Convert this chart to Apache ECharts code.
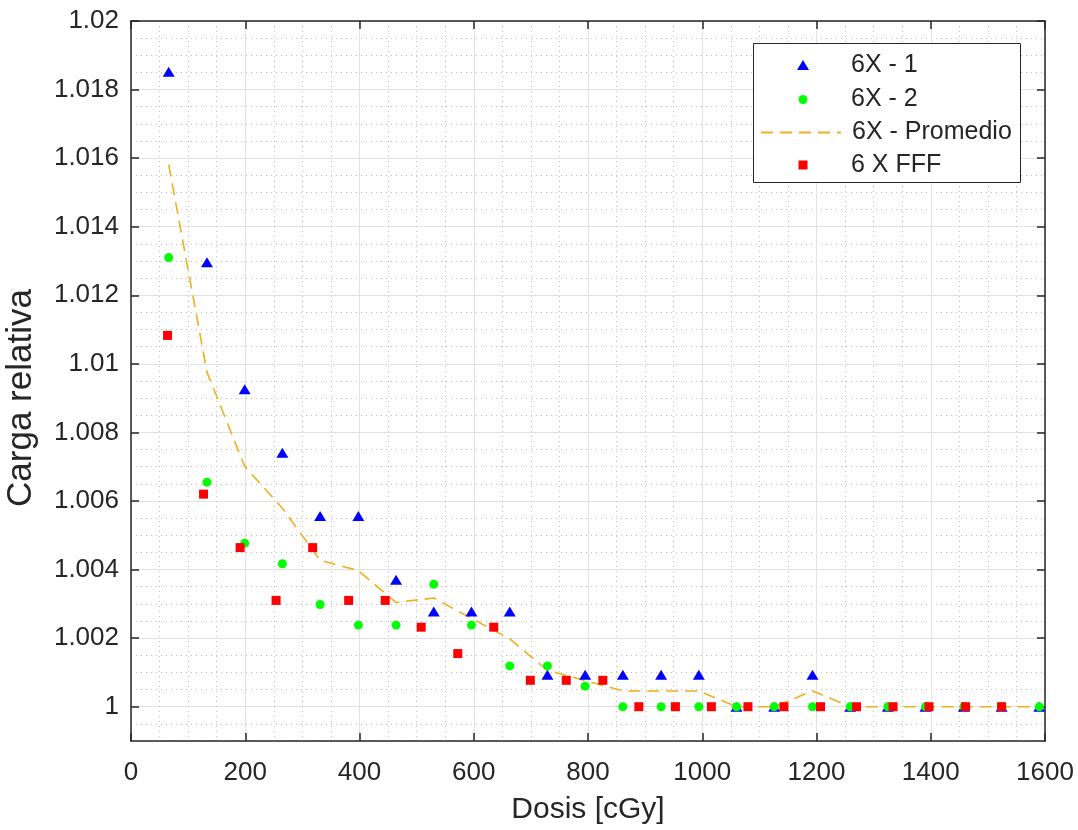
<!DOCTYPE html>
<html>
<head>
<meta charset="utf-8">
<script src="https://cdn.jsdelivr.net/npm/echarts@6/dist/echarts.min.js"></script>
<style>html,body{margin:0;padding:0;background:#fff}#c{width:1078px;height:830px}</style>
</head>
<body>
<div id="c"></div>
<script>
// Dose values (cGy)
const dose6X  = [66, 133, 199, 265, 331, 398, 464, 530, 596, 663, 729, 795, 861, 928, 994, 1060, 1126, 1193, 1259, 1325, 1391, 1458, 1524, 1590];
const doseFFF = [64, 127, 191, 254, 318, 381, 445, 508, 572, 635, 699, 762, 826, 889, 953, 1016, 1080, 1143, 1207, 1270, 1334, 1397, 1461, 1524];
// Relative charge
const carga6X1 = [1.01852, 1.01296, 1.00926, 1.00741, 1.00556, 1.00556, 1.00370, 1.00278, 1.00278, 1.00278, 1.00093, 1.00093, 1.00093, 1.00093, 1.00093, 1.0, 1.0, 1.00093, 1.0, 1.0, 1.0, 1.0, 1.0, 1.0];
const carga6X2 = [1.01310, 1.00655, 1.00477, 1.00417, 1.00298, 1.00238, 1.00238, 1.00357, 1.00238, 1.00119, 1.00119, 1.00060, 1.0, 1.0, 1.0, 1.0, 1.0, 1.0, 1.0, 1.0, 1.0, 1.0, 1.0, 1.0];
const carga6XProm = [1.01581, 1.00976, 1.00701, 1.00579, 1.00427, 1.00397, 1.00304, 1.00317, 1.00258, 1.00198, 1.00106, 1.00076, 1.00046, 1.00046, 1.00046, 1.0, 1.0, 1.00046, 1.0, 1.0, 1.0, 1.0, 1.0, 1.0];
const cargaFFF = [1.01083, 1.00620, 1.00464, 1.00310, 1.00464, 1.00310, 1.00310, 1.00232, 1.00155, 1.00232, 1.00077, 1.00077, 1.00077, 1.0, 1.0, 1.0, 1.0, 1.0, 1.0, 1.0, 1.0, 1.0, 1.0, 1.0];
// Axis ticks
const yTicks = [1.000, 1.002, 1.004, 1.006, 1.008, 1.010, 1.012, 1.014, 1.016, 1.018, 1.020];
const seriesNames = ['6X - 1', '6X - 2', '6X - Promedio', '6 X FFF'];

const pairs = (xs, ys) => xs.map((x, i) => [x, ys[i]]);
const fmtY = v => String(parseFloat(Number(v).toFixed(3)));
const fmtX = v => String(v);

const AX = '#262626';
const FONT = 'Liberation Sans, Arial, Helvetica, sans-serif';

function legendItem(name, left, top, w, h, padLeft, extra) {
  return {
    data: [extra ? Object.assign({name: name}, extra) : {name: name}],
    orient: 'vertical', left: left, top: top, padding: 0,
    itemWidth: w, itemHeight: h, selectedMode: false,
    textStyle: {fontSize: 25, color: AX, fontFamily: FONT, padding: [0, 0, 0, padLeft]},
    z: 30
  };
}

const chart = echarts.init(document.getElementById('c'), null, {renderer: 'canvas'});
chart.setOption({
  backgroundColor: '#ffffff',
  animation: false,
  textStyle: {fontFamily: FONT},
  grid: {left: 131, right: 33, top: 21, bottom: 89, containLabel: false, outerBoundsMode: 'none'},
  graphic: [{
    type: 'rect', z: 25,
    shape: {x: 753.5, y: 43.5, width: 267, height: 139},
    style: {fill: '#ffffff', stroke: AX, lineWidth: 1}
  }],
  legend: [
    legendItem(seriesNames[0], 797, 52.5, 12, 10, 37),
    legendItem(seriesNames[1], 798.5, 87, 9, 9, 38.5),
    legendItem(seriesNames[2], 760, 120, 80, 10, 6, {itemStyle: {opacity: 0}}),
    legendItem(seriesNames[3], 798.5, 152.5, 9, 9, 38.5)
  ],
  xAxis: [{
    type: 'value', position: 'bottom', min: 0, max: 1600, interval: 200,
    name: 'Dosis [cGy]', nameLocation: 'middle', nameGap: 54,
    nameTextStyle: {fontSize: 30, color: AX, fontFamily: FONT},
    axisLine: {show: true, onZero: false, lineStyle: {color: AX, width: 1.5}},
    axisTick: {show: true, inside: true, length: 8, lineStyle: {color: AX, width: 1.5}},
    axisLabel: {fontSize: 26, color: AX, margin: 19, fontFamily: FONT, formatter: fmtX},
    splitLine: {show: true, lineStyle: {color: '#e2e2e2', width: 1}},
    minorTick: {show: false, splitNumber: 4},
    minorSplitLine: {show: true, lineStyle: {color: '#bdbdbd', width: 1, type: [1, 4]}}
  }, {
    type: 'value', position: 'top', min: 0, max: 1600, interval: 200,
    axisLine: {show: true, onZero: false, lineStyle: {color: AX, width: 1.5}},
    axisTick: {show: true, inside: true, length: 8, lineStyle: {color: AX, width: 1.5}},
    axisLabel: {show: false}, splitLine: {show: false}
  }],
  yAxis: [{
    type: 'value', position: 'left', min: 0.999, max: 1.02, splitNumber: 10,
    name: 'Carga relativa', nameLocation: 'middle', nameGap: 92, nameRotate: 90,
    nameTextStyle: {fontSize: 35, color: AX, fontFamily: FONT, padding: [0, 34, 0, 0]},
    axisLine: {show: true, onZero: false, lineStyle: {color: AX, width: 1.5}},
    axisTick: {show: true, inside: true, length: 8, customValues: yTicks, lineStyle: {color: AX, width: 1.5}},
    axisLabel: {fontSize: 26, color: AX, margin: 12, customValues: yTicks, formatter: fmtY, fontFamily: FONT},
    splitLine: {show: true, lineStyle: {color: '#e2e2e2', width: 1}}
  }, {
    type: 'value', position: 'left', min: 0.999, max: 1.02, interval: 0.0005,
    axisLine: {show: false}, axisTick: {show: false}, axisLabel: {show: false},
    splitLine: {show: true, lineStyle: {color: '#bdbdbd', width: 1, type: [1, 4]}},
    z: -1
  }, {
    type: 'value', position: 'right', min: 0.999, max: 1.02, splitNumber: 10,
    axisLine: {show: true, onZero: false, lineStyle: {color: AX, width: 1.5}},
    axisTick: {show: true, inside: true, length: 8, customValues: yTicks, lineStyle: {color: AX, width: 1.5}},
    axisLabel: {show: false}, splitLine: {show: false}
  }],
  series: [{
    name: seriesNames[0], type: 'scatter', xAxisIndex: 0, yAxisIndex: 0,
    symbol: 'triangle', symbolSize: [12, 10],
    itemStyle: {color: '#0000ff', opacity: 1},
    data: pairs(dose6X, carga6X1), z: 3
  }, {
    name: seriesNames[1], type: 'scatter', xAxisIndex: 0, yAxisIndex: 0,
    symbol: 'circle', symbolSize: 9,
    itemStyle: {color: '#00ff00', opacity: 1},
    data: pairs(dose6X, carga6X2), z: 4
  }, {
    name: seriesNames[2], type: 'line', xAxisIndex: 0, yAxisIndex: 0,
    symbol: 'none', showSymbol: false,
    lineStyle: {color: '#EDB120', width: 1.6, type: [12, 7]},
    itemStyle: {color: '#EDB120'},
    data: pairs(dose6X, carga6XProm), z: 2
  }, {
    name: seriesNames[3], type: 'scatter', xAxisIndex: 0, yAxisIndex: 0,
    symbol: 'rect', symbolSize: 9,
    itemStyle: {color: '#ff0000', opacity: 1},
    data: pairs(doseFFF, cargaFFF), z: 5
  }]
});
</script>
</body>
</html>
